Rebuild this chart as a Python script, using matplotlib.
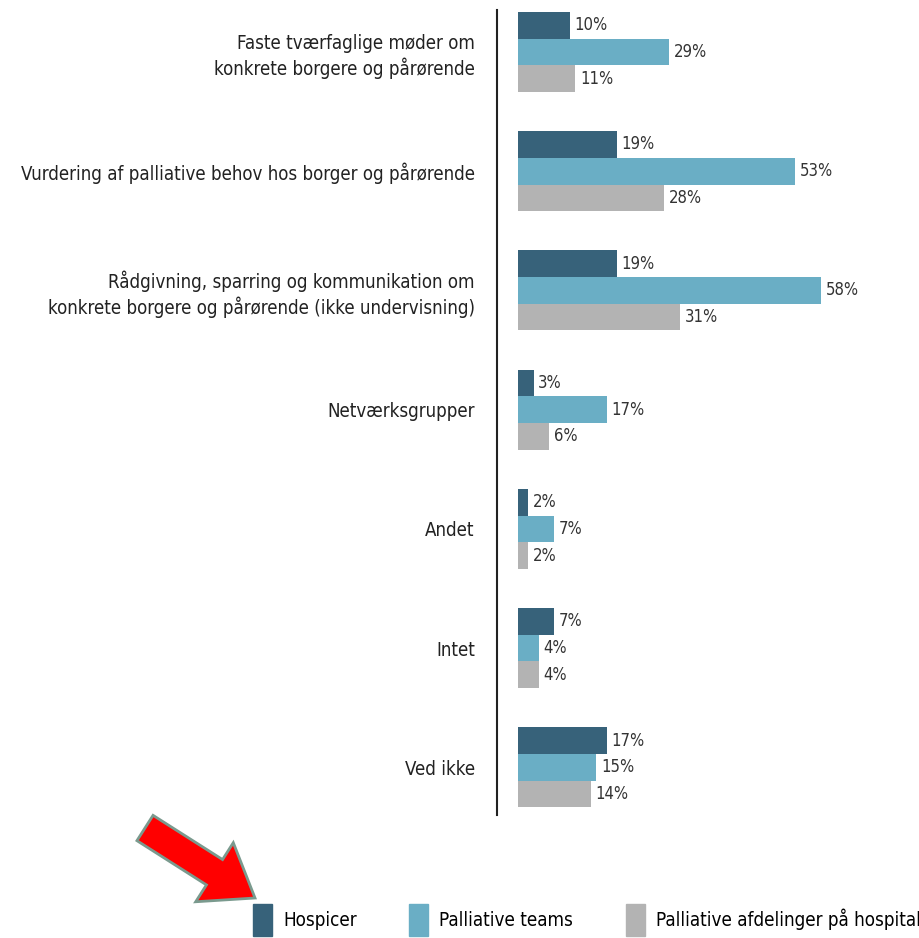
import numpy as np
import matplotlib.pyplot as plt
from matplotlib.patches import FancyArrow, Patch

categories = ['Faste tværfaglige møder om\nkonkrete borgere og pårørende',
              'Vurdering af palliative behov hos borger og pårørende',
              'Rådgivning, sparring og kommunikation om\nkonkrete borgere og pårørende (ikke undervisning)',
              'Netværksgrupper',
              'Andet',
              'Intet',
              'Ved ikke']
hospicer = [10, 19, 19, 3, 2, 7, 17]
teams = [29, 53, 58, 17, 7, 4, 15]
afdelinger = [11, 28, 31, 6, 2, 4, 14]
series_names = ['Hospicer', 'Palliative teams', 'Palliative afdelinger på hospital']
colors = ['#37627a', '#6aaec5', '#b3b3b3']

plt.rcParams['font.family'] = ['DejaVu Sans']
plt.rcParams['font.stretch'] = 'condensed'

fig = plt.figure(figsize=(9.2, 9.38), dpi=100)
ax = fig.add_axes([497/920, 1-815/938, 1-497/920, (815-10)/938])

y = np.arange(len(categories))
h = 0.224
for k, vals in enumerate([hospicer, teams, afdelinger]):
    pos = y + (k-1)*h
    ax.barh(pos, vals, height=h, color=colors[k])
    for p, v in zip(pos, vals):
        ax.text(v+0.9, p, f'{v}%', va='center', ha='left', fontsize=12, color='#333333')

ax.set_xlim(-4, 77)
ax.set_ylim(6.40, -0.352)
ax.set_yticks(y)
ax.set_yticklabels(categories, fontsize=13.4, color='#222222', linespacing=1.25)
ax.tick_params(axis='y', length=0, pad=16)
ax.set_xticks([])
for s in ['top', 'right', 'bottom']:
    ax.spines[s].set_visible(False)
ax.spines['left'].set_linewidth(1.5)
ax.spines['left'].set_color('#222222')

handles = [Patch(color=c) for c in colors]
fig.legend(handles, series_names, loc='center', bbox_to_anchor=(587/920, 1-920/938),
           ncol=3, frameon=False, fontsize=13.5, handlelength=1.0, handleheight=2.3,
           columnspacing=2.8, handletextpad=0.6)

arrow = FancyArrow(1.45, (938-828)/100, 1.10, -0.70, width=0.30, head_width=0.70,
                   head_length=0.48, length_includes_head=True,
                   facecolor='#ff0000', edgecolor='#7a9a8e', linewidth=2,
                   transform=fig.dpi_scale_trans)
fig.patches.append(arrow)

fig.savefig('out.png', dpi=100)
